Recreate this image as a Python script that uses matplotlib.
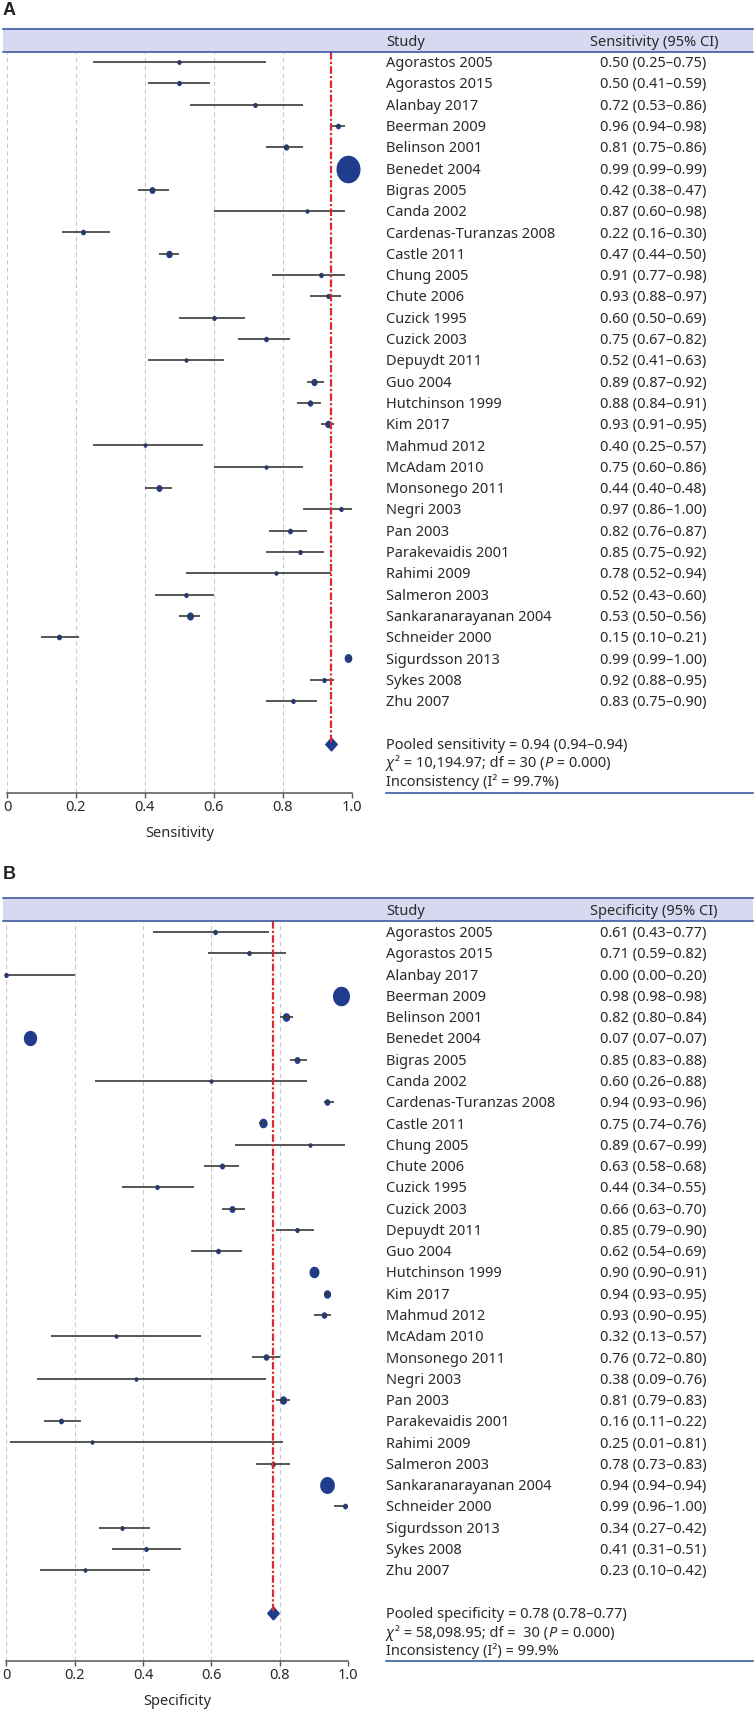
import matplotlib
matplotlib.use('Agg')
import matplotlib.pyplot as plt
import numpy as np
import matplotlib.transforms as mtransforms
from matplotlib.patches import Rectangle
from matplotlib.lines import Line2D

plt.rcParams['font.family'] = ['Noto Sans', 'DejaVu Sans']

# ---------------- data ----------------
studies = ["Agorastos 2005", "Agorastos 2015", "Alanbay 2017", "Beerman 2009",
           "Belinson 2001", "Benedet 2004", "Bigras 2005", "Canda 2002",
           "Cardenas-Turanzas 2008", "Castle 2011", "Chung 2005", "Chute 2006",
           "Cuzick 1995", "Cuzick 2003", "Depuydt 2011", "Guo 2004",
           "Hutchinson 1999", "Kim 2017", "Mahmud 2012", "McAdam 2010",
           "Monsonego 2011", "Negri 2003", "Pan 2003", "Parakevaidis 2001",
           "Rahimi 2009", "Salmeron 2003", "Sankaranarayanan 2004",
           "Schneider 2000", "Sigurdsson 2013", "Sykes 2008", "Zhu 2007"]

sens = [0.50, 0.50, 0.72, 0.96, 0.81, 0.99, 0.42, 0.87, 0.22, 0.47, 0.91, 0.93,
        0.60, 0.75, 0.52, 0.89, 0.88, 0.93, 0.40, 0.75, 0.44, 0.97, 0.82, 0.85,
        0.78, 0.52, 0.53, 0.15, 0.99, 0.92, 0.83]
sens_lo = [0.25, 0.41, 0.53, 0.94, 0.75, 0.99, 0.38, 0.60, 0.16, 0.44, 0.77, 0.88,
           0.50, 0.67, 0.41, 0.87, 0.84, 0.91, 0.25, 0.60, 0.40, 0.86, 0.76, 0.75,
           0.52, 0.43, 0.50, 0.10, 0.99, 0.88, 0.75]
sens_hi = [0.75, 0.59, 0.86, 0.98, 0.86, 0.99, 0.47, 0.98, 0.30, 0.50, 0.98, 0.97,
           0.69, 0.82, 0.63, 0.92, 0.91, 0.95, 0.57, 0.86, 0.48, 1.00, 0.87, 0.92,
           0.94, 0.60, 0.56, 0.21, 1.00, 0.95, 0.90]
sens_weight = [4.3, 4.7, 4.5, 5.0, 5.5, 24.0, 6.0, 4.0, 5.0, 6.5, 4.7, 4.5,
               4.5, 4.8, 4.0, 6.3, 5.5, 6.5, 4.0, 4.0, 6.0, 4.5, 5.0, 4.5,
               4.0, 4.5, 7.0, 5.0, 7.7, 4.5, 4.5]

spec = [0.61, 0.71, 0.00, 0.98, 0.82, 0.07, 0.85, 0.60, 0.94, 0.75, 0.89, 0.63,
        0.44, 0.66, 0.85, 0.62, 0.90, 0.94, 0.93, 0.32, 0.76, 0.38, 0.81, 0.16,
        0.25, 0.78, 0.94, 0.99, 0.34, 0.41, 0.23]
spec_lo = [0.43, 0.59, 0.00, 0.98, 0.80, 0.07, 0.83, 0.26, 0.93, 0.74, 0.67, 0.58,
           0.34, 0.63, 0.79, 0.54, 0.90, 0.93, 0.90, 0.13, 0.72, 0.09, 0.79, 0.11,
           0.01, 0.73, 0.94, 0.96, 0.27, 0.31, 0.10]
spec_hi = [0.77, 0.82, 0.20, 0.98, 0.84, 0.07, 0.88, 0.88, 0.96, 0.76, 0.99, 0.68,
           0.55, 0.70, 0.90, 0.69, 0.91, 0.95, 0.95, 0.57, 0.80, 0.76, 0.83, 0.22,
           0.81, 0.83, 0.94, 1.00, 0.42, 0.51, 0.42]
spec_weight = [4.7, 4.5, 4.5, 17.0, 7.5, 13.3, 6.0, 4.0, 5.7, 8.3, 4.0, 5.2,
               4.5, 6.0, 4.5, 4.8, 10.0, 7.3, 5.7, 4.0, 5.7, 4.0, 7.3, 5.0,
               4.0, 4.7, 14.7, 5.0, 4.3, 4.5, 4.0]

pooled_sens = 0.94
pooled_spec = 0.78

# each stats line is a list of (text, italic) segments
sens_stats = [[("Pooled sensitivity = 0.94 (0.94\u20130.94)", False)],
              [("\u03c7", True), ("\u00b2 = 10,194.97; df = 30 (", False),
               ("P", True), (" = 0.000)", False)],
              [("Inconsistency (I\u00b2 = 99.7%)", False)]]
spec_stats = [[("Pooled specificity = 0.78 (0.78\u20130.77)", False)],
              [("\u03c7", True), ("\u00b2 = 58,098.95; df =  30 (", False),
               ("P", True), (" = 0.000)", False)],
              [("Inconsistency (I\u00b2) = 99.9%", False)]]

xticks = [0, 0.2, 0.4, 0.6, 0.8, 1.0]
xticklabels = ["0", "0.2", "0.4", "0.6", "0.8", "1.0"]

# ---------------- style ----------------
W, H, DPI = 756, 1710, 100
FS = 10.5
BLUE = '#203c8c'
RED = '#dd2a2e'
LINE = '#3a3a3a'
BAND = '#d6d9ef'
BANDLINE = '#2f4c9c'
TXT = '#2a2a2a'

fig = plt.figure(figsize=(W / DPI, H / DPI), dpi=DPI)
renderer = fig.canvas.get_renderer()

def fx(px):
    return px / W

def fy(py):
    return 1 - py / H

t = np.linspace(0, 2 * np.pi, 64)
ASPECT = 1.15
ellipse = list(zip(0.5 * np.cos(t) / ASPECT, 0.5 * np.sin(t)))
diamond = [(0, 0.5), (0.45, 0), (0, -0.5), (-0.45, 0), (0, 0.5)]
CAP = 5.1  # half cap height in px, for vertical centring of text


def rich_text(x_px, y_px, segments):
    x = x_px
    for s, ital in segments:
        tx = fig.text(fx(x), fy(y_px), s, fontsize=FS, ha='left', va='baseline',
                      color=TXT, fontstyle='italic' if ital else 'normal')
        bb = tx.get_window_extent(renderer)
        x = bb.x1 + (0.5 if ital else 0)


def panel(letter, label_top, band_top, band_bot, ax_left, ax_right, ax_bot,
          row0, row_h, vals, lo, hi, weight, pooled, stats, stat_offsets,
          header, xlabel, xlabel_y):
    fig.text(fx(2.5), fy(label_top - 1), letter, fontsize=13, fontweight='bold',
             family=['Liberation Sans', 'DejaVu Sans'], va='top', ha='left',
             color='#222222')
    fig.add_artist(Rectangle((fx(3), fy(band_bot)), fx(750), (band_bot - band_top) / H,
                             transform=fig.transFigure, facecolor=BAND,
                             edgecolor='none', zorder=0))
    for yy in (band_top, band_bot):
        fig.add_artist(Line2D([fx(3), fx(753)], [fy(yy), fy(yy)],
                              transform=fig.transFigure, color=BANDLINE, lw=1.1))
    hy = fy((band_top + band_bot) / 2 + CAP)
    fig.text(fx(386), hy, header[0], fontsize=FS, ha='left', va='baseline', color=TXT)
    fig.text(fx(654), hy, header[1], fontsize=FS, ha='center', va='baseline', color=TXT)

    ax = fig.add_axes([fx(ax_left), fy(ax_bot), fx(ax_right - ax_left),
                       (ax_bot - band_bot) / H])
    n = len(vals)
    ax.set_xlim(0, 1)
    ax.set_ylim((ax_bot - row0) / row_h, (band_bot - row0) / row_h)
    ax.set_facecolor('none')
    for s in ('left', 'right', 'top'):
        ax.spines[s].set_visible(False)
    ax.spines['bottom'].set_bounds(0, 1)
    ax.spines['bottom'].set_color('#555555')
    ax.spines['bottom'].set_linewidth(1.1)
    ax.set_yticks([])
    ax.set_xticks(xticks)
    ax.set_xticklabels(xticklabels)
    ax.tick_params(axis='x', length=3.5, width=1.0, color='#555555', pad=1.5,
                   labelsize=FS, labelcolor=TXT)
    for xt in xticks:
        ax.axvline(xt, color='#c8c8c8', lw=0.8, linestyle=(0, (4, 3)), zorder=0)

    for i in range(n):
        ax.plot([lo[i], hi[i]], [i, i], color=LINE, lw=1.2, zorder=3,
                solid_capstyle='butt', clip_on=False)
        ms = weight[i] * ASPECT * 0.72
        ax.plot([vals[i]], [i], linestyle='none', marker=ellipse, ms=ms,
                color=BLUE, mec='none', zorder=2, clip_on=False)

    yd = n + 1
    ax.plot([pooled, pooled], [ax.get_ylim()[1], yd], color=RED, lw=1.6,
            dashes=(3.4, 1.0, 1.0, 1.0), zorder=5)
    ax.plot([pooled], [yd], linestyle='none', marker=diamond, ms=9.2,
            color=BLUE, mec=BLUE, zorder=4, clip_on=False)

    trans = mtransforms.blended_transform_factory(fig.transFigure, ax.transData)
    trans = trans + mtransforms.ScaledTranslation(0, -CAP / DPI, fig.dpi_scale_trans)
    for i in range(n):
        ax.text(fx(386), i, studies[i], transform=trans, fontsize=FS,
                ha='left', va='baseline', color=TXT)
        txt = f"{vals[i]:.2f} ({lo[i]:.2f}\u2013{hi[i]:.2f})"
        ax.text(fx(653), i, txt, transform=trans, fontsize=FS,
                ha='center', va='baseline', color=TXT)
    for k, segs in enumerate(stats):
        y_px = row0 + (yd + stat_offsets[k]) * row_h + CAP
        rich_text(386, y_px, segs)

    fig.add_artist(Line2D([fx(386), fx(753)], [fy(ax_bot - 0.5), fy(ax_bot - 0.5)],
                          transform=fig.transFigure, color='#3a5aa0', lw=1.2))
    fig.text(fx((ax_left + ax_right) / 2), fy(xlabel_y + CAP), xlabel, fontsize=FS,
             ha='center', va='baseline', color=TXT)
    return ax


panel("A", 3, 29, 52, 7, 351.7, 793, 62, 21.3, sens, sens_lo, sens_hi,
      sens_weight, pooled_sens, sens_stats, [0.0, 0.87, 1.75],
      ("Study", "Sensitivity (95% CI)"), "Sensitivity", 832)

panel("B", 867, 898, 921, 6.3, 348, 1661, 932, 21.27, spec, spec_lo, spec_hi,
      spec_weight, pooled_spec, spec_stats, [0.0, 0.89, 1.74],
      ("Study", "Specificity (95% CI)"), "Specificity", 1700)

fig.savefig('out.png', dpi=DPI)
